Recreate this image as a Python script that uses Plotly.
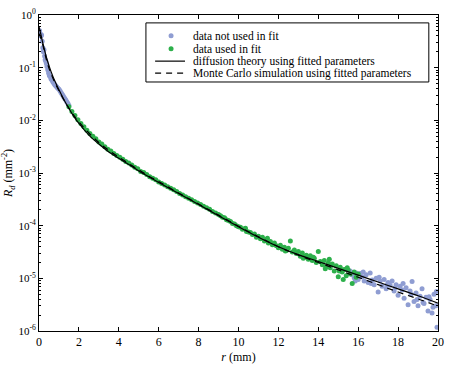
import numpy as np
import plotly.graph_objects as go

# ---- data (log10 of R_d) ----
blue_left_r = [0.03, 0.07, 0.10, 0.13, 0.16, 0.19, 0.22, 0.25, 0.28, 0.31, 0.34, 0.37, 0.40, 0.44,
               0.48, 0.52, 0.56, 0.60, 0.65, 0.70, 0.75, 0.80, 0.85, 0.90, 0.95, 1.00, 1.05, 1.10,
               1.15, 1.20, 1.25, 1.30, 1.35, 1.40, 1.45, 1.50]
blue_left_log = [-0.30, -0.36, -0.40, -0.38, -0.50, -0.62, -0.70, -0.66, -0.78, -0.85, -0.88, -0.92,
                 -0.98, -1.04, -1.10, -1.15, -1.17, -1.21, -1.24, -1.27, -1.30, -1.33, -1.35, -1.37,
                 -1.39, -1.41, -1.44, -1.47, -1.50, -1.53, -1.56, -1.59, -1.62, -1.65, -1.68, -1.72]

blue_right_r = [15.6, 15.7, 15.8, 15.9, 16.0, 16.1, 16.2, 16.3, 16.4, 16.5, 16.6, 16.7, 16.8, 16.9,
                17.0, 17.1, 17.2, 17.3, 17.4, 17.5, 17.6, 17.7, 17.8, 17.9, 18.0, 18.1, 18.2, 18.3,
                18.4, 18.5, 18.6, 18.7, 18.8, 18.9, 19.0, 19.1, 19.2, 19.3, 19.4, 19.5, 19.6, 19.7,
                19.8, 19.9, 19.95, 19.92, 15.85, 16.25, 16.65, 17.05, 17.45, 17.85, 18.25, 18.65,
                18.95, 19.25, 19.55, 19.75]
blue_right_log = [-4.86, -4.93, -4.99, -4.90, -5.02, -4.91, -4.97, -5.05, -4.93, -5.08, -4.90, -5.03,
                  -5.12, -5.00, -5.26, -5.05, -5.15, -5.02, -5.20, -5.08, -5.13, -5.05, -5.24, -5.12,
                  -5.32, -5.15, -5.22, -5.38, -5.18, -5.50, -5.24, -5.06, -5.44, -5.28, -5.52, -5.34,
                  -5.20, -5.48, -5.36, -5.62, -5.40, -5.66, -5.30, -5.52, -5.93, -5.25, -5.05, -4.88,
                  -5.10, -4.98, -5.12, -5.18, -5.10, -5.30, -5.40, -5.46, -5.35, -5.55]

green_r = [1.50, 1.65, 1.80, 1.95, 2.10, 2.25, 2.40, 2.55, 2.70, 2.85, 3.00, 3.15, 3.30, 3.45, 3.60,
           3.75, 3.90, 4.05, 4.20, 4.35, 4.50, 4.65, 4.80, 4.95, 5.10, 5.25, 5.40, 5.55, 5.70, 5.85,
           6.00, 6.15, 6.30, 6.45, 6.60, 6.75, 6.90, 7.05, 7.20, 7.35, 7.50, 7.65, 7.80, 7.95, 8.10,
           8.25, 8.40, 8.55, 8.70, 8.85, 9.00,
           9.1, 9.2, 9.3, 9.4, 9.5, 9.6, 9.7, 9.8, 9.9, 10.0,
           10.1, 10.2, 10.3, 10.4, 10.5, 10.6, 10.7, 10.8, 10.9, 11.0,
           11.1, 11.2, 11.3, 11.4, 11.5, 11.6, 11.7, 11.8, 11.9, 12.0,
           12.1, 12.2, 12.3, 12.4, 12.5, 12.6, 12.7, 12.8, 12.9, 13.0,
           13.1, 13.2, 13.3, 13.4, 13.5, 13.6, 13.7, 13.8, 13.9, 14.0,
           14.1, 14.2, 14.3, 14.4, 14.5, 14.6, 14.7, 14.8, 14.9, 15.0,
           15.1, 15.2, 15.3, 15.4, 15.5, 15.6, 15.7, 15.8, 15.9, 16.0,
           10.35, 11.45, 12.35, 13.25, 13.75, 14.35, 14.55, 15.05, 15.25, 15.45]
green_log = [-1.74, -1.83, -1.91, -1.99, -2.06, -2.12, -2.19, -2.25, -2.30, -2.35, -2.41, -2.45,
             -2.50, -2.55, -2.58, -2.63, -2.67, -2.70, -2.74, -2.78, -2.81, -2.85, -2.89, -2.92,
             -2.97, -2.99, -3.03, -3.07, -3.10, -3.13, -3.17, -3.20, -3.23, -3.26, -3.29, -3.32,
             -3.35, -3.39, -3.42, -3.45, -3.48, -3.51, -3.54, -3.57, -3.60, -3.63, -3.66, -3.69,
             -3.73, -3.76, -3.79,
             -3.81, -3.84, -3.85, -3.89, -3.90, -3.92, -3.96, -3.97, -4.00, -4.02,
             -4.03, -4.07, -4.06, -4.11, -4.12, -4.13, -4.17, -4.16, -4.22, -4.20,
             -4.25, -4.22, -4.29, -4.26, -4.33, -4.30, -4.36, -4.33, -4.38, -4.42,
             -4.37, -4.45, -4.41, -4.47, -4.43, -4.29, -4.50, -4.46, -4.53, -4.49,
             -4.58, -4.52, -4.60, -4.56, -4.64, -4.57, -4.66, -4.62, -4.70, -4.49,
             -4.68, -4.74, -4.66, -4.78, -4.71, -4.80, -4.73, -4.86, -4.76, -4.97,
             -4.79, -4.88, -4.83, -4.95, -4.84, -4.92, -5.10, -4.88, -4.98, -4.92,
             -4.05, -4.24, -4.48, -4.62, -4.60, -4.82, -4.64, -4.86, -5.02, -4.80]

curve_r = [0, 0.1, 0.2, 0.3, 0.4, 0.5, 0.6, 0.8, 1.0, 1.2, 1.4, 1.7, 2.0, 2.5, 3.0, 3.5, 4.0, 4.5,
           5.0, 5.5, 6, 7, 8, 9, 10, 11, 12, 13, 14, 15, 16, 17, 18, 19, 20]
theory_log = [-0.22, -0.38, -0.55, -0.70, -0.84, -0.96, -1.07, -1.26, -1.42, -1.57, -1.71, -1.90,
              -2.06, -2.28, -2.45, -2.60, -2.72, -2.84, -2.96, -3.07, -3.18, -3.39, -3.60, -3.81,
              -4.02, -4.22, -4.40, -4.55, -4.68, -4.81, -4.94, -5.07, -5.20, -5.33, -5.47]
mc_log = [-0.35, -0.45, -0.58, -0.74, -0.89, -1.01, -1.11, -1.29, -1.44, -1.58, -1.71, -1.88,
          -2.03, -2.24, -2.42, -2.57, -2.70, -2.82, -2.94, -3.06, -3.16, -3.38, -3.59, -3.80,
          -4.01, -4.21, -4.40, -4.56, -4.70, -4.84, -4.98, -5.12, -5.26, -5.39, -5.53]

ytick_vals = [1e-6, 1e-5, 1e-4, 1e-3, 1e-2, 1e-1, 1e0]
ytick_text = ["10<sup>-6</sup>", "10<sup>-5</sup>", "10<sup>-4</sup>", "10<sup>-3</sup>",
              "10<sup>-2</sup>", "10<sup>-1</sup>", "10<sup>0</sup>"]

legend_labels = ["data not used in fit", "data used in fit",
                 "diffusion theory using fitted parameters",
                 "Monte Carlo simulation using fitted parameters"]

BLUE = "#8f9dd2"
GREEN = "#2db04b"
FONT = "Liberation Serif"

fig = go.Figure()
fig.add_trace(go.Scatter(
    x=blue_left_r + blue_right_r,
    y=np.power(10.0, blue_left_log + blue_right_log),
    mode="markers", name=legend_labels[0],
    marker=dict(color=BLUE, size=5, line=dict(width=0))))
fig.add_trace(go.Scatter(
    x=green_r, y=np.power(10.0, green_log),
    mode="markers", name=legend_labels[1],
    marker=dict(color=GREEN, size=5, line=dict(width=0))))
fig.add_trace(go.Scatter(
    x=curve_r, y=np.power(10.0, theory_log), mode="lines",
    name=legend_labels[2],
    line=dict(color="black", width=1.2, shape="spline")))
fig.add_trace(go.Scatter(
    x=curve_r, y=np.power(10.0, mc_log), mode="lines",
    name=legend_labels[3],
    line=dict(color="black", width=1.2, dash="6px,5px", shape="spline")))

# ---- compact legend box (drawn in paper coordinates) ----
row_y = [0.934, 0.893, 0.854, 0.816]
shapes = [dict(type="rect", xref="paper", yref="paper", x0=0.268, x1=0.977, y0=0.788, y1=0.975,
               line=dict(color="black", width=1), fillcolor="white", layer="above")]
for yy, col in zip(row_y[:2], [BLUE, GREEN]):
    shapes.append(dict(type="circle", xref="paper", yref="paper", xsizemode="pixel",
                       ysizemode="pixel", xanchor=0.331, yanchor=yy, x0=-2.5, x1=2.5,
                       y0=-2.5, y1=2.5, fillcolor=col, line=dict(width=0), layer="above"))
shapes.append(dict(type="line", xref="paper", yref="paper", x0=0.291, x1=0.366,
                   y0=row_y[2], y1=row_y[2], line=dict(color="black", width=1.2), layer="above"))
shapes.append(dict(type="line", xref="paper", yref="paper", x0=0.291, x1=0.366,
                   y0=row_y[3], y1=row_y[3], line=dict(color="black", width=1.2, dash="6px,5px"),
                   layer="above"))
annotations = [dict(text=t, xref="paper", yref="paper", x=0.381, y=yy, xanchor="left",
                    yanchor="middle", showarrow=False, font=dict(family=FONT, size=11.5))
               for t, yy in zip(legend_labels, row_y)]

fig.update_layout(
    width=454, height=365,
    margin=dict(l=39, r=16, t=15, b=34),
    paper_bgcolor="white", plot_bgcolor="white",
    font=dict(family=FONT, size=12, color="black"),
    showlegend=False,
    shapes=shapes, annotations=annotations,
)
fig.update_xaxes(
    range=[0, 20], dtick=2, tick0=0, showgrid=False, zeroline=False, automargin=False,
    showline=True, linecolor="black", linewidth=1, mirror="ticks",
    ticks="inside", ticklen=4, tickcolor="black", tickfont=dict(size=12),
    title=dict(text="<i>r</i> (mm)", font=dict(size=12), standoff=4),
)
fig.update_yaxes(
    type="log", range=[-6, 0], showgrid=False, zeroline=False, automargin=False,
    showline=True, linecolor="black", linewidth=1, mirror="ticks",
    ticks="inside", ticklen=4, tickcolor="black", tickfont=dict(size=11),
    tickvals=ytick_vals, ticktext=ytick_text,
    minor=dict(ticks="inside", ticklen=2, tickcolor="black", dtick="D1", showgrid=False),
    title=dict(text="<i>R<sub>d</sub></i> (mm<sup>-2</sup>)", font=dict(size=12), standoff=6),
)

fig.write_html("out.html", config={"displayModeBar": False},
               post_script="document.body.style.margin='0';")
